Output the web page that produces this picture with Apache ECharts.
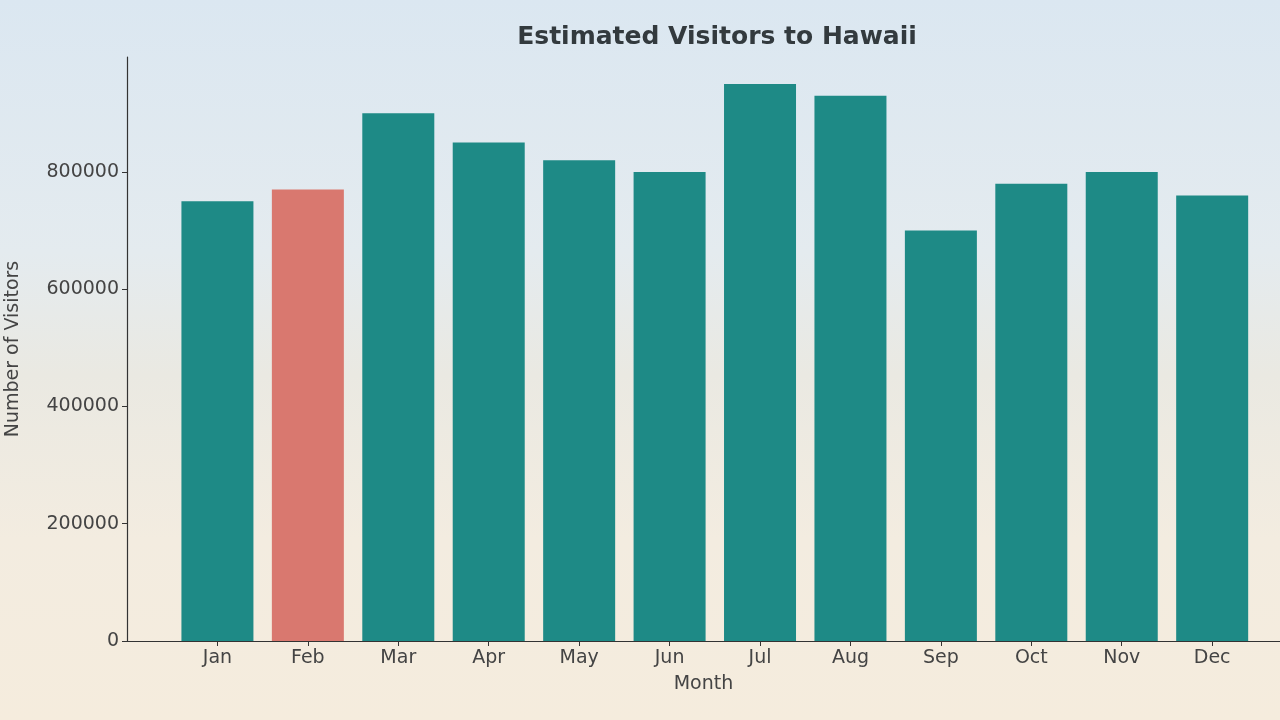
<!DOCTYPE html>
<html>
<head>
<meta charset="utf-8">
<script src="https://cdn.jsdelivr.net/npm/echarts@6/dist/echarts.min.js"></script>
<style>
  html, body { margin:0; padding:0; }
  #chart {
    width:1280px; height:720px;
    background: linear-gradient(180deg, #dbe7f1 0%, #e4ebef 35%, #eae9e2 52%, #f3ece0 75%, #f5ecdd 100%);
  }
</style>
</head>
<body>
<div id="chart"></div>
<script>
  var months = ['Jan','Feb','Mar','Apr','May','Jun','Jul','Aug','Sep','Oct','Nov','Dec'];
  var visitors = [750000, 770000, 900000, 850000, 820000, 800000, 950000, 930000, 700000, 780000, 800000, 760000];
  var highlight = 'Feb';

  var myChart = echarts.init(document.getElementById('chart'));
  var barData = [];
  for (var i = 0; i < months.length; i++) {
    barData.push({
      value: [i, visitors[i]],
      itemStyle: { color: months[i] == highlight ? '#d9786f' : '#1e8a86' }
    });
  }

  var option = {
    title: {
      text: 'Estimated Visitors to Hawaii',
      left: 712, top: 20, textAlign: 'center',
      textStyle: { fontFamily: 'DejaVu Sans', fontSize: 25, fontWeight: 'bold', color: '#333a3e' }
    },
    grid: { left: 127, right: 0, top: 57, bottom: 79, containLabel: false, outerBoundsMode: 'none' },
    xAxis: {
      type: 'value', min: -1, max: 11.75, interval: 1,
      name: 'Month', nameLocation: 'middle', nameGap: 34,
      nameTextStyle: { fontFamily: 'DejaVu Sans', fontSize: 19, color: '#444' },
      splitLine: { show: false },
      axisLine: { show: true, onZero: false, lineStyle: { color: '#333', width: 1.2 } },
      axisTick: { show: true, length: 5, lineStyle: { color: '#333' } },
      axisLabel: {
        fontFamily: 'DejaVu Sans', fontSize: 19, color: '#444', margin: 8,
        showMinLabel: false, showMaxLabel: false,
        formatter: function (v) { return months[v] || ''; }
      }
    },
    yAxis: {
      type: 'value', min: 0, max: 996000, interval: 200000,
      name: 'Number of Visitors', nameLocation: 'middle', nameGap: 104,
      nameTextStyle: { fontFamily: 'DejaVu Sans', fontSize: 19, color: '#444' },
      splitLine: { show: false },
      axisLine: { show: true, onZero: false, lineStyle: { color: '#333', width: 1.2 } },
      axisTick: { show: true, length: 5, lineStyle: { color: '#333' } },
      axisLabel: {
        fontFamily: 'DejaVu Sans', fontSize: 19, color: '#444', margin: 8,
        showMaxLabel: false,
        formatter: function (v) { return String(v); }
      }
    },
    series: [{
      type: 'bar',
      barWidth: 72,
      data: barData
    }]
  };
  myChart.setOption(option);
</script>
</body>
</html>
